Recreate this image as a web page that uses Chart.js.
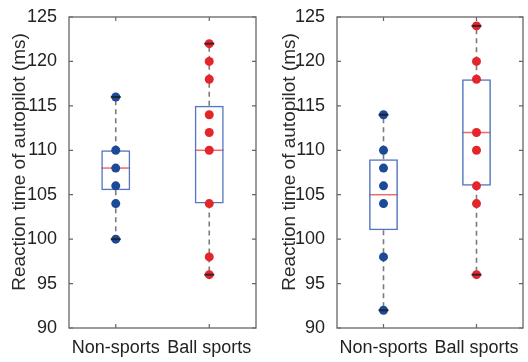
<!DOCTYPE html>
<html>
<head>
<meta charset="utf-8">
<script src="https://cdn.jsdelivr.net/npm/chart.js@4.4.1/dist/chart.umd.min.js"></script>
<style>
  html, body { margin: 0; padding: 0; background: #fff; }
  .panel { position: absolute; top: 0; width: 264px; height: 362px; }
  #wrapA { left: 0; }
  #wrapB { left: 264px; }
</style>
</head>
<body>
<div class="panel" id="wrapA"><canvas id="chartA"></canvas></div>
<div class="panel" id="wrapB"><canvas id="chartB"></canvas></div>
<script>
// categories and tick range
const groups = ['Non-sports', 'Ball sports'];
const yTicks = [90, 95, 100, 105, 110, 115, 120, 125];
const yTitle = 'Reaction time of autopilot (ms)';

// left panel: raw points per group
const nonSportsA = [116, 110, 108, 106, 104, 100];
const ballSportsA = [122, 120, 118, 114, 112, 110, 104, 98, 96];
// left panel: box statistics (Non-sports, Ball sports)
const q1A = [105.5, 104];
const medianA = [108, 110];
const q3A = [110, 115];
const lowA = [100, 96];
const highA = [116, 122];

// right panel
const nonSportsB = [114, 110, 108, 106, 104, 98, 92];
const ballSportsB = [124, 120, 118, 112, 110, 106, 104, 96];
const q1B = [101, 106];
const medianB = [105, 112];
const q3B = [109, 118];
const lowB = [92, 96];
const highB = [114, 124];

const FONT = "'Liberation Sans', Arial, sans-serif";

// whiskers, medians, caps, y title and the axis box with inward ticks
const boxPlotExtras = {
  id: 'boxPlotExtras',
  beforeDatasetsDraw(chart, args, opts) {
    const { ctx, scales: { x, y } } = chart;
    const half = (x.getPixelForValue(1) - x.getPixelForValue(0)) * 0.155;
    ctx.save();
    // dashed whiskers
    ctx.strokeStyle = '#7a7a7a';
    ctx.lineWidth = 1.6;
    ctx.setLineDash([5, 4]);
    opts.q1.forEach((q, i) => {
      const px = x.getPixelForValue(i);
      ctx.beginPath();
      ctx.moveTo(px, y.getPixelForValue(opts.q3[i]));
      ctx.lineTo(px, y.getPixelForValue(opts.high[i]));
      ctx.moveTo(px, y.getPixelForValue(q));
      ctx.lineTo(px, y.getPixelForValue(opts.low[i]));
      ctx.stroke();
    });
    ctx.setLineDash([]);
    // medians
    ctx.strokeStyle = '#ef6b6b';
    ctx.lineWidth = 1.5;
    opts.median.forEach((m, i) => {
      const px = x.getPixelForValue(i);
      const py = y.getPixelForValue(m);
      ctx.beginPath();
      ctx.moveTo(px - half, py);
      ctx.lineTo(px + half, py);
      ctx.stroke();
    });
    ctx.restore();
  },
  afterDatasetsDraw(chart, args, opts) {
    const { ctx, chartArea: a, scales: { x, y } } = chart;
    ctx.save();
    // whisker caps
    ctx.strokeStyle = 'rgba(30,30,40,0.85)';
    ctx.lineWidth = 2;
    opts.low.forEach((lo, i) => {
      const px = x.getPixelForValue(i);
      [lo, opts.high[i]].forEach(v => {
        const py = y.getPixelForValue(v);
        ctx.beginPath();
        ctx.moveTo(px - 5, py);
        ctx.lineTo(px + 5, py);
        ctx.stroke();
      });
    });
    // frame
    ctx.strokeStyle = '#666';
    ctx.lineWidth = 1.3;
    ctx.strokeRect(a.left, a.top, a.right - a.left, a.bottom - a.top);
    ctx.lineWidth = 1.2;
    ctx.beginPath();
    y.ticks.forEach(t => {
      const py = y.getPixelForValue(t.value);
      ctx.moveTo(a.left, py); ctx.lineTo(a.left + 4, py);
      ctx.moveTo(a.right, py); ctx.lineTo(a.right - 4, py);
    });
    groups.forEach((g, i) => {
      const px = x.getPixelForValue(i);
      ctx.moveTo(px, a.bottom); ctx.lineTo(px, a.bottom - 4);
      ctx.moveTo(px, a.top); ctx.lineTo(px, a.top + 4);
    });
    ctx.stroke();
    // rotated y title
    ctx.translate(opts.titleX, 162);
    ctx.rotate(-Math.PI / 2);
    ctx.fillStyle = '#2a2a2a';
    ctx.font = '19px ' + FONT;
    ctx.textAlign = 'center';
    ctx.textBaseline = 'middle';
    ctx.fillText(yTitle, 0, 0);
    ctx.restore();
  }
};

function pointsFor(label, values) {
  return values.map(v => ({ x: label, y: v }));
}

function makeChart(id, nonSports, ballSports, q1, median, q3, low, high, layout) {
  return new Chart(document.getElementById(id), {
    type: 'bar',
    data: {
      labels: groups,
      datasets: [
        {
          type: 'line',
          data: pointsFor(groups[0], nonSports),
          showLine: false,
          pointRadius: 4.5,
          pointBackgroundColor: '#1d4a96',
          pointBorderWidth: 0,
          order: 0
        },
        {
          type: 'line',
          data: pointsFor(groups[1], ballSports),
          showLine: false,
          pointRadius: 4.5,
          pointBackgroundColor: '#e4262b',
          pointBorderWidth: 0,
          order: 0
        },
        {
          data: q1.map((q, i) => [q, q3[i]]),
          backgroundColor: 'rgba(0,0,0,0)',
          borderColor: '#5676c2',
          borderWidth: 1.5,
          borderSkipped: false,
          barPercentage: 0.31,
          categoryPercentage: 1,
          order: 1
        }
      ]
    },
    options: {
      responsive: true,
      maintainAspectRatio: false,
      animation: false,
      layout: { padding: { top: 17, right: layout.right, bottom: 0, left: 0 } },
      plugins: {
        legend: { display: false },
        tooltip: { enabled: false },
        boxPlotExtras: { q1, median, q3, low, high, titleX: layout.titleX }
      },
      scales: {
        x: {
          type: 'category',
          offset: true,
          grid: { display: false },
          border: { display: false },
          ticks: {
            color: '#222',
            font: { family: FONT, size: 18 },
            padding: 1,
            autoSkip: false,
            maxRotation: 0
          },
          afterFit(scale) { scale.height = 34; }
        },
        y: {
          min: 90,
          max: 125,
          afterBuildTicks(scale) { scale.ticks = yTicks.map(v => ({ value: v })); },
          grid: { display: false },
          border: { display: false },
          ticks: {
            color: '#222',
            font: { family: FONT, size: 18 },
            padding: 4
          },
          afterFit(scale) { scale.width = layout.axisWidth; }
        }
      }
    },
    plugins: [boxPlotExtras]
  });
}

makeChart('chartA', nonSportsA, ballSportsA, q1A, medianA, q3A, lowA, highA,
  { right: 8, axisWidth: 69, titleX: 20 });
makeChart('chartB', nonSportsB, ballSportsB, q1B, medianB, q3B, lowB, highB,
  { right: 5, axisWidth: 73, titleX: 26 });
</script>
</body>
</html>
